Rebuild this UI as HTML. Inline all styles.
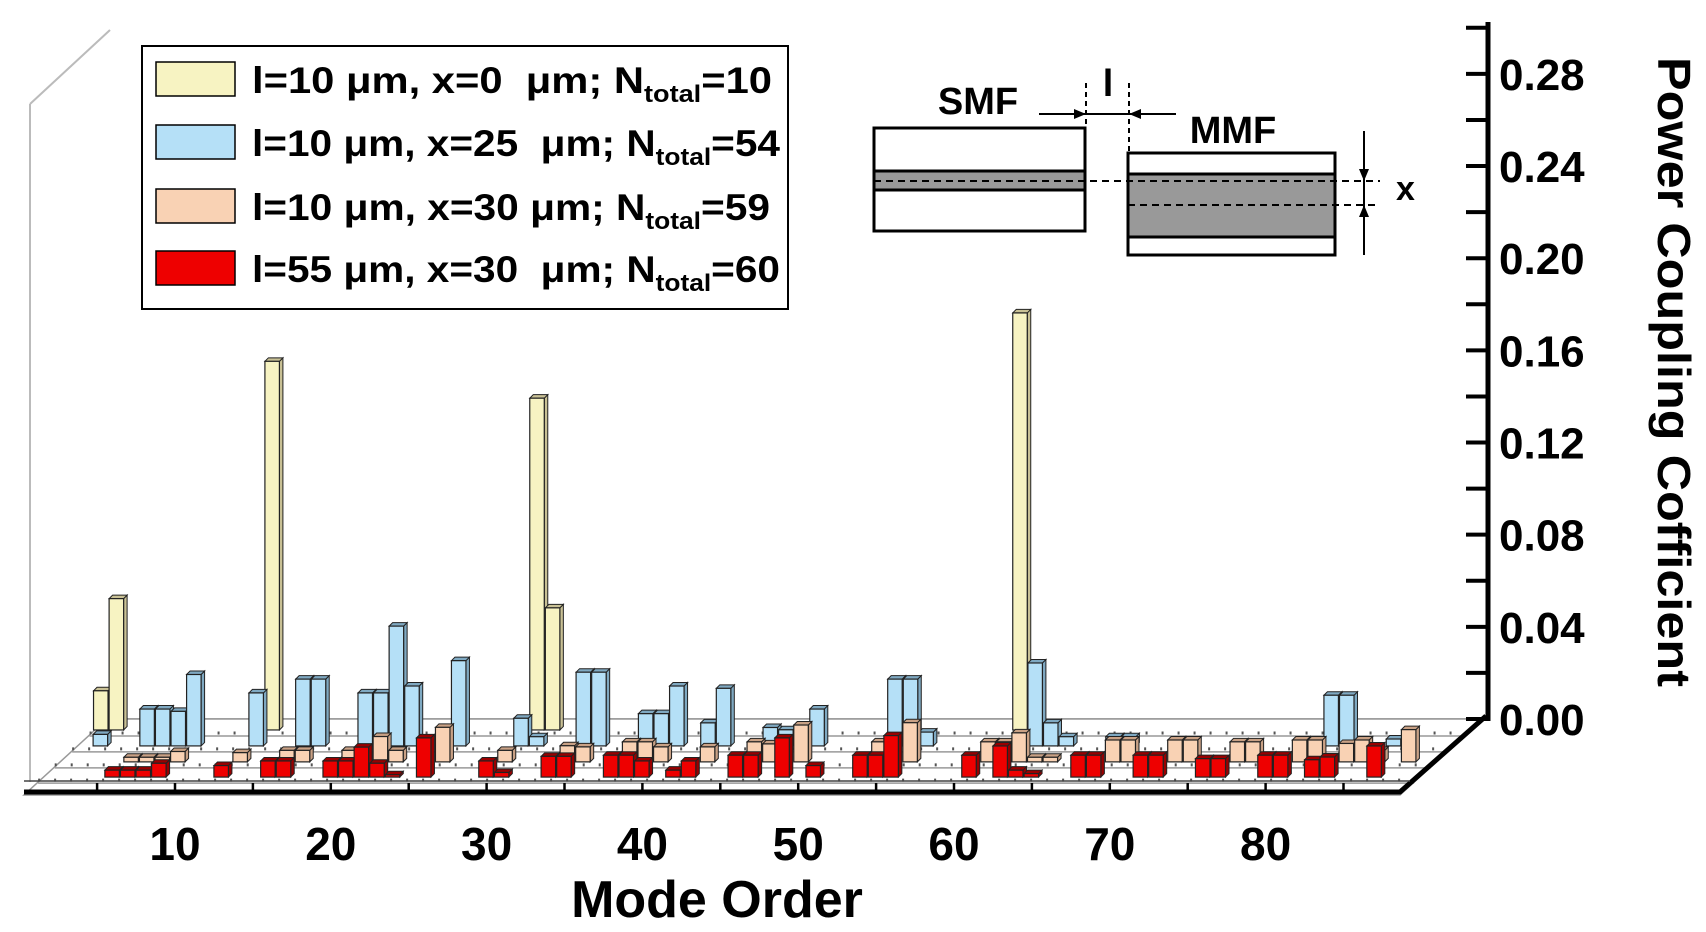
<!DOCTYPE html>
<html><head><meta charset="utf-8"><style>
html,body{margin:0;padding:0;background:#fff;}
svg{display:block;font-family:"Liberation Sans",Arial,sans-serif;font-weight:bold;}
</style></head><body>
<svg id="chart" width="1706" height="932" viewBox="0 0 1706 932" xmlns="http://www.w3.org/2000/svg">
<g id="frame"></g>
<g id="bars"></g>
<g id="axes"></g>
<g>
  <rect x="142" y="46" width="646" height="263" fill="#fff" stroke="#000" stroke-width="2"/>
  <g>
    <rect x="156" y="62" width="79" height="34" fill="#f7f3c2" stroke="#000" stroke-width="1.5"/>
    <text x="252" y="93" font-size="37" textLength="520" lengthAdjust="spacingAndGlyphs">l=10 μm, x=0 &#160;μm; N<tspan font-size="24" dy="9">total</tspan><tspan dy="-9">=10</tspan></text>
  </g>
  <g>
    <rect x="156" y="125" width="79" height="34" fill="#b5e0f7" stroke="#000" stroke-width="1.5"/>
    <text x="252" y="156" font-size="37" textLength="528" lengthAdjust="spacingAndGlyphs">l=10 μm, x=25 &#160;μm; N<tspan font-size="24" dy="9">total</tspan><tspan dy="-9">=54</tspan></text>
  </g>
  <g>
    <rect x="156" y="189" width="79" height="34" fill="#f9d2b4" stroke="#000" stroke-width="1.5"/>
    <text x="252" y="220" font-size="37" textLength="518" lengthAdjust="spacingAndGlyphs">l=10 μm, x=30 μm; N<tspan font-size="24" dy="9">total</tspan><tspan dy="-9">=59</tspan></text>
  </g>
  <g>
    <rect x="156" y="251" width="79" height="34" fill="#ee0000" stroke="#000" stroke-width="1.5"/>
    <text x="252" y="282" font-size="37" textLength="528" lengthAdjust="spacingAndGlyphs">l=55 μm, x=30 &#160;μm; N<tspan font-size="24" dy="9">total</tspan><tspan dy="-9">=60</tspan></text>
  </g>
</g>
<g stroke="#000">
  <rect x="874" y="128" width="211" height="103" fill="#fff" stroke-width="3"/>
  <rect x="874" y="171" width="211" height="19" fill="#999" stroke-width="3"/>
  <rect x="1128" y="153" width="207" height="102" fill="#fff" stroke-width="3"/>
  <rect x="1128" y="174" width="207" height="63" fill="#999" stroke-width="3"/>
  <line x1="874" y1="181" x2="1380" y2="181" stroke-width="2" stroke-dasharray="7,5"/>
  <line x1="1128" y1="205" x2="1380" y2="205" stroke-width="2" stroke-dasharray="7,5"/>
  <line x1="1086" y1="83" x2="1086" y2="128" stroke-width="2" stroke-dasharray="5,4"/>
  <line x1="1129" y1="83" x2="1129" y2="153" stroke-width="2" stroke-dasharray="5,4"/>
  <line x1="1039" y1="114" x2="1176" y2="114" stroke-width="2"/>
  <path d="M1086 114 l-12 -5 v10z M1129 114 l12 -5 v10z" fill="#000" stroke="none"/>
  <line x1="1364" y1="131" x2="1364" y2="255" stroke-width="2"/>
  <path d="M1364 181 l-5 -12 h10z M1364 205 l-5 12 h10z" fill="#000" stroke="none"/>
  <text stroke="none" x="978" y="114" font-size="38" text-anchor="middle">SMF</text>
  <text stroke="none" x="1233" y="143" font-size="38" text-anchor="middle">MMF</text>
  <text stroke="none" x="1108" y="96" font-size="38" text-anchor="middle">l</text>
  <text stroke="none" x="1396" y="200" font-size="34">x</text>
</g>
<text x="717" y="917" font-size="52" text-anchor="middle">Mode Order</text>
<text transform="translate(1658,372) rotate(90)" font-size="46" text-anchor="middle" textLength="630" lengthAdjust="spacingAndGlyphs">Power Coupling Cofficient</text>
</svg>
<script>
// ---- data ----
const rowNames = ["yellow","blue","salmon","red"];
const yellowModes = [1,2,12,29,30,60];
const yellowVals = [0.017,0.057,0.160,0.144,0.053,0.181];
const blueModes = [2,5,6,7,8,12,15,16,19,20,21,22,25,29,30,33,34,37,38,39,41,42,45,46,48,53,54,55,62,63,64,67,68,81,82,85];
const blueVals = [0.005,0.016,0.016,0.015,0.031,0.023,0.029,0.029,0.023,0.023,0.052,0.026,0.037,0.012,0.004,0.032,0.032,0.014,0.014,0.026,0.010,0.025,0.008,0.007,0.016,0.029,0.029,0.006,0.036,0.010,0.004,0.004,0.004,0.022,0.022,0.003];
const salmonModes = [5,6,7,8,12,15,16,19,21,22,25,29,33,34,37,38,39,42,45,46,48,53,55,60,61,62,63,64,68,69,72,73,76,77,80,81,83,84,85,87];
const salmonVals = [0.002,0.002,0.002,0.0045,0.004,0.005,0.005,0.005,0.011,0.005,0.015,0.005,0.007,0.0065,0.0087,0.0087,0.0065,0.0065,0.0087,0.0078,0.016,0.0087,0.017,0.0087,0.0087,0.0126,0.002,0.002,0.0095,0.0095,0.0095,0.0095,0.0087,0.0087,0.0095,0.0095,0.008,0.0095,0.005,0.014];
const redModes = [5,6,7,8,12,15,16,19,20,21,22,23,25,29,30,33,34,37,38,39,41,42,45,46,48,50,53,54,55,60,62,63,64,67,68,71,72,75,76,79,80,82,83,86];
const redVals = [0.003,0.003,0.003,0.006,0.005,0.007,0.007,0.007,0.007,0.013,0.006,0.001,0.017,0.007,0.002,0.009,0.009,0.0095,0.0095,0.007,0.003,0.007,0.0095,0.0095,0.017,0.005,0.0095,0.0095,0.018,0.0095,0.0135,0.003,0.0015,0.0095,0.0095,0.0095,0.0095,0.008,0.008,0.0095,0.0095,0.0075,0.0087,0.0135];
const yTicks = [0.00,0.04,0.08,0.12,0.16,0.20,0.24,0.28];
const xTickLabels = [10,20,30,40,50,60,70,80];

// ---- geometry ----
const NS="http://www.w3.org/2000/svg";
const FX0=175, DXM=15.58, FRONTY=790, DEPX=83, DEPY=76, PXU=2304;
const xScale = m => FX0 + (m-10)*DXM;
const yScale = v => v*PXU;
function mk(tag, attrs, parent){const e=document.createElementNS(NS,tag);for(const k in attrs)e.setAttribute(k,attrs[k]);parent.appendChild(e);return e;}
const frame=document.getElementById('frame'), barsG=document.getElementById('bars'), axes=document.getElementById('axes');

let l;
l=mk('line',{x1:30,y1:104,x2:30,y2:782,stroke:'#bbb','stroke-width':2},frame);


l=mk('line',{x1:30,y1:104,x2:110,y2:30,stroke:'#bbb','stroke-width':2},frame);


l=mk('line',{x1:107,y1:719,x2:1488,y2:719,stroke:'#aaa','stroke-width':2},frame);


l=mk('polygon',{points:`24,795 1400,795 1483,719 107,719`,fill:'#fff',stroke:'#999','stroke-width':1.5},frame);



const rows=[
 {name:'yellow',modes:yellowModes,vals:yellowVals,f:0.79,shift:66,fill:'#f7f3c2',side:'#c9c195'},
 {name:'blue',modes:blueModes,vals:blueVals,f:0.58,shift:50,fill:'#b5e0f7',side:'#7fa9c2'},
 {name:'salmon',modes:salmonModes,vals:salmonVals,f:0.37,shift:34,fill:'#f9d2b4',side:'#c9a185'},
 {name:'red',modes:redModes,vals:redVals,f:0.17,shift:15,fill:'#ee0000',side:'#990000'}
];
rows.forEach(r=>{
  const by=FRONTY-r.f*DEPY;
  const s=mk('line',{x1:24+r.f*DEPX,y1:by+3,x2:1400+r.f*DEPX,y2:by+3,stroke:'#555','stroke-width':3,'stroke-dasharray':'2,14'},frame);
  
  
  const s2=mk('line',{x1:24+r.f*DEPX,y1:by+6,x2:1400+r.f*DEPX,y2:by+6,stroke:'#999','stroke-width':1.5},frame);
  
  
});
const W=14.5, D=3.5;
rows.forEach(r=>{
  const by=FRONTY-r.f*DEPY;
  r.modes.forEach((m,i)=>{
    const cx=xScale(m)+r.shift, h=yScale(r.vals[i]);
    const x0=cx-W/2, top=by-h;
    const g=mk('g',{},barsG);
    
    
    mk('polygon',{points:`${x0+W},${by} ${x0+W+D},${by-D} ${x0+W+D},${top-D} ${x0+W},${top}`,fill:r.side,stroke:'#222','stroke-width':1},g);
    mk('polygon',{points:`${x0},${top} ${x0+D},${top-D} ${x0+W+D},${top-D} ${x0+W},${top}`,fill:r.side,stroke:'#222','stroke-width':1},g);
    mk('rect',{x:x0,y:top,width:W,height:h,fill:r.fill,stroke:'#222','stroke-width':1.2},g);
  });
});
l=mk('polyline',{points:'24,792 1400,792 1486,716',fill:'none',stroke:'#000','stroke-width':5},axes);


l=mk('line',{x1:24,y1:781,x2:1410,y2:781,stroke:'#444','stroke-width':1.5},axes);


for(let m=5;m<=85;m+=5){
  const t=mk('line',{x1:xScale(m),y1:783,x2:xScale(m),y2:792,stroke:'#000','stroke-width':2.5},axes);
  
  
}
xTickLabels.forEach(v=>{
  const t=mk('text',{x:xScale(v),y:860,'font-size':46,'text-anchor':'middle'},axes);
  t.textContent=v;
  
  
});
l=mk('line',{x1:1488,y1:22,x2:1488,y2:721,stroke:'#000','stroke-width':5},axes);


for(let k=0;k<=15;k++){
  const v=k*0.02; const y=719-yScale(v);
  const t=mk('line',{x1:1466,y1:y,x2:1488,y2:y,stroke:'#000','stroke-width':4},axes);
  
  
}
yTicks.forEach(v=>{
  const t=mk('text',{x:1499,y:719-yScale(v)+16,'font-size':44},axes);
  t.textContent=v.toFixed(2);
  
  
});
</script>
</body></html>
